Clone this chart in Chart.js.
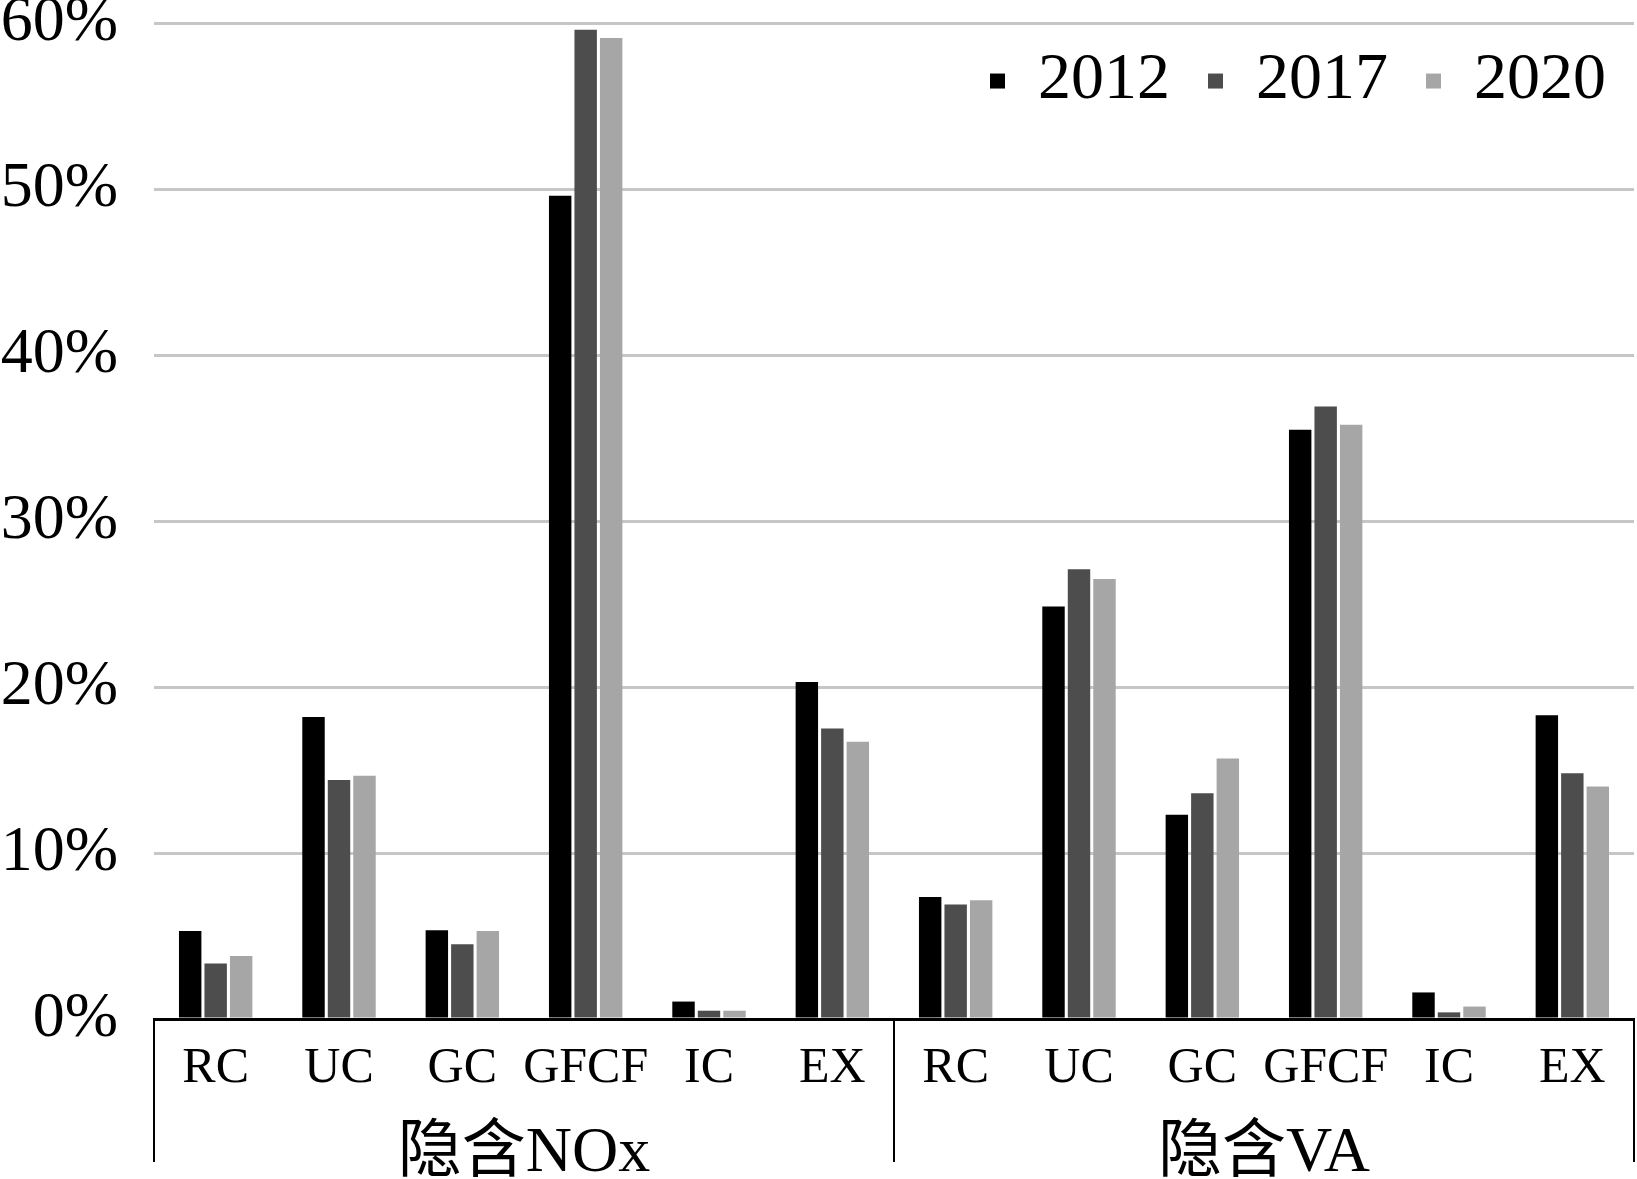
<!DOCTYPE html>
<html lang="zh">
<head>
    <meta charset="UTF-8">
    <title>隐含NOx与隐含VA</title>
    <script src="https://cdn.jsdelivr.net/npm/chart.js"></script>
    <style>
        body {
            margin: 0;
            background: #ffffff;
        }
        .chart-container {
            width: 1637px;
            height: 1179px;
        }
    </style>
</head>
<body>
    <div class="chart-container">
        <canvas id="barChart" width="1637" height="1179"></canvas>
    </div>

    <script>
        // Categories (final demand components), repeated for each group
        const components = ['RC', 'UC', 'GC', 'GFCF', 'IC', 'EX'];
        const groups = ['隐含NOx', '隐含VA'];
        const years = ['2012', '2017', '2020'];

        // Shares in percent: first 6 values = 隐含NOx, last 6 = 隐含VA
        const share2012 = [5.3, 18.2, 5.35, 49.6, 1.05, 20.3,   7.35, 24.85, 12.3, 35.5, 1.6, 18.3];
        const share2017 = [3.35, 14.4, 4.5, 59.6, 0.5, 17.5,    6.9, 27.1, 13.6, 36.9, 0.4, 14.8];
        const share2020 = [3.8, 14.65, 5.3, 59.1, 0.5, 16.7,    7.15, 26.5, 15.7, 35.8, 0.75, 14.0];

        const yTicks = [0, 10, 20, 30, 40, 50, 60];

        const colors = ['#000000', '#4d4d4d', '#a6a6a6'];
        const serif = "'Liberation Serif', 'Noto Sans CJK SC', serif";

        const labels = groups.flatMap(() => components);
        const series = [share2012, share2017, share2020];

        // Group labels and separator lines under the category axis
        const groupAxis = {
            id: 'groupAxis',
            afterDraw(chart) {
                const x = chart.scales.x;
                const ctx = chart.ctx;
                const bottom = 1162;
                ctx.save();
                ctx.strokeStyle = '#000000';
                ctx.lineWidth = 2;
                for (let g = 0; g <= groups.length; g++) {
                    const px = Math.round(x.getPixelForDecimal(g / groups.length));
                    ctx.beginPath();
                    ctx.moveTo(px, x.top);
                    ctx.lineTo(px, bottom);
                    ctx.stroke();
                }
                ctx.fillStyle = '#000000';
                ctx.font = '64px ' + serif;
                ctx.textAlign = 'center';
                ctx.textBaseline = 'middle';
                groups.forEach((name, g) => {
                    const cx = x.getPixelForDecimal((g + 0.5) / groups.length);
                    ctx.fillText(name, cx, 1154);
                });
                ctx.restore();
            }
        };

        // Let the legend sit over the plot area instead of taking a row
        const legendOverlay = {
            id: 'legendOverlay',
            beforeInit(chart) {
                const fit = chart.legend.fit;
                chart.legend.fit = function () {
                    fit.call(this);
                    this._fullHeight = this.height;
                    this.height = 0;
                };
            },
            afterLayout(chart) {
                const legend = chart.legend;
                legend.top -= 13;
                legend.left += 10;
                legend.right += 10;
                legend.height = legend._fullHeight;
                legend.bottom = legend.top + legend.height;
            }
        };

        const ctx = document.getElementById('barChart').getContext('2d');

        new Chart(ctx, {
            type: 'bar',
            data: {
                labels: labels,
                datasets: years.map((year, i) => ({
                    label: year,
                    data: series[i],
                    backgroundColor: colors[i],
                    borderWidth: 0,
                    categoryPercentage: 0.62,
                    barPercentage: 0.88
                }))
            },
            options: {
                responsive: false,
                animation: false,
                layout: {
                    padding: { top: 0, right: 3, left: 0, bottom: 0 }
                },
                plugins: {
                    legend: {
                        position: 'top',
                        align: 'end',
                        labels: {
                            boxWidth: 15,
                            boxHeight: 15,
                            padding: 38,
                            color: '#000000',
                            font: { family: serif, size: 66 }
                        }
                    },
                    tooltip: { enabled: false }
                },
                scales: {
                    x: {
                        grid: { display: false, drawTicks: false },
                        border: { display: true, color: '#000000', width: 3 },
                        ticks: {
                            color: '#000000',
                            padding: 20,
                            maxRotation: 0,
                            autoSkip: false,
                            font: { family: serif, size: 50 }
                        },
                        afterFit(scale) { scale.height = 160; }
                    },
                    y: {
                        min: 0,
                        max: 60,
                        afterBuildTicks(scale) {
                            scale.ticks = yTicks.map(v => ({ value: v }));
                        },
                        grid: {
                            color: '#c6c6c6',
                            lineWidth: 3,
                            drawTicks: true,
                            tickLength: 36,
                            tickColor: 'rgba(0,0,0,0)'
                        },
                        border: { display: false },
                        ticks: {
                            color: '#000000',
                            padding: 0,
                            font: { family: serif, size: 64, lineHeight: 0.72 },
                            callback: v => v + '%'
                        },
                        afterFit(scale) { scale.width = 154; }
                    }
                }
            },
            plugins: [groupAxis, legendOverlay]
        });
    </script>
</body>
</html>
